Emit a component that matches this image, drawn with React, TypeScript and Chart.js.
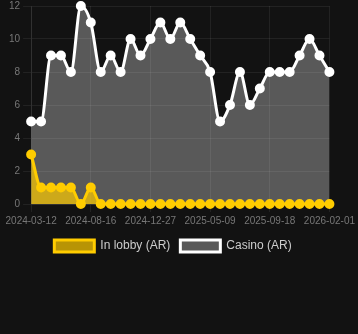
import React, { useEffect, useRef } from "react";
import { Chart, registerables } from "chart.js";

Chart.register(...registerables);

const labels = [
  "2024-03-12", "2024-04-05", "2024-04-29", "2024-05-24", "2024-06-18", "2024-07-19",
  "2024-08-16", "2024-09-07", "2024-09-29", "2024-10-21", "2024-11-13", "2024-12-05",
  "2024-12-27", "2025-01-18", "2025-02-09", "2025-03-03", "2025-03-26", "2025-04-17",
  "2025-05-09", "2025-05-31", "2025-06-22", "2025-07-14", "2025-08-05", "2025-08-27",
  "2025-09-18", "2025-10-11", "2025-11-03", "2025-11-25", "2025-12-17", "2026-01-09",
  "2026-02-01",
];

const inLobby = [3, 1, 1, 1, 1, 0, 1, 0, 0, 0, 0, 0, 0, 0, 0, 0, 0, 0, 0, 0, 0, 0, 0, 0, 0, 0, 0, 0, 0, 0, 0];
const casino = [5, 5, 9, 9, 8, 12, 11, 8, 9, 8, 10, 9, 10, 11, 10, 11, 10, 9, 8, 5, 6, 8, 6, 7, 8, 8, 8, 9, 10, 9, 8];

const yTicks = [0, 2, 4, 6, 8, 10, 12];
const shownEvery = 6;

export default function App() {
  const ref = useRef<HTMLCanvasElement | null>(null);

  useEffect(() => {
    document.documentElement.style.background = "#121212";
    document.body.style.margin = "0";
    document.body.style.background = "#121212";
    document.body.style.overflow = "hidden";
    if (!ref.current) return;
    const chart = new Chart(ref.current, {
      type: "line",
      data: {
        labels,
        datasets: [
          {
            label: "In lobby (AR)",
            data: inLobby,
            borderColor: "#ffcc00",
            backgroundColor: "rgba(255,204,0,0.7)",
            pointBackgroundColor: "#ffcc00",
            pointBorderColor: "#ffcc00",
            borderWidth: 3,
            pointRadius: 4,
            pointBorderWidth: 2,
            fill: "origin",
            clip: false,
            cubicInterpolationMode: "monotone",
          },
          {
            label: "Casino (AR)",
            data: casino,
            borderColor: "#ffffff",
            backgroundColor: "rgba(255,255,255,0.3)",
            pointBackgroundColor: "#ffffff",
            pointBorderColor: "#ffffff",
            borderWidth: 3,
            pointRadius: 4,
            pointBorderWidth: 2,
            fill: "origin",
            clip: false,
            cubicInterpolationMode: "monotone",
          },
        ],
      },
      options: {
        animation: false,
        responsive: true,
        maintainAspectRatio: false,
        layout: { padding: { left: 6, right: 18, top: 0, bottom: 0 } },
        plugins: {
          legend: {
            position: "bottom",
            labels: { color: "#cccccc", font: { size: 12 }, boxWidth: 40, boxHeight: 12 },
          },
          tooltip: { enabled: false },
        },
        scales: {
          x: {
            grid: { color: "rgba(255,255,255,0.07)" },
            border: { color: "rgba(255,255,255,0.07)" },
            afterBuildTicks: (scale: any) => {
              scale.ticks = scale.ticks.filter((_t: any, i: number) => i % shownEvery === 0);
            },
            ticks: { color: "#777777", font: { size: 10 }, autoSkip: false, maxRotation: 0 },
          },
          y: {
            min: 0,
            max: 12,
            afterBuildTicks: (scale: any) => {
              scale.ticks = yTicks.map((v) => ({ value: v }));
            },
            grid: { color: "rgba(255,255,255,0.07)" },
            border: { color: "rgba(255,255,255,0.07)" },
            ticks: { color: "#777777", font: { size: 10 } },
          },
        },
      },
    });
    return () => chart.destroy();
  }, []);

  return (
    <div style={{ width: 358, height: 265, marginTop: -3, position: "relative" }}>
      <canvas ref={ref} />
    </div>
  );
}
